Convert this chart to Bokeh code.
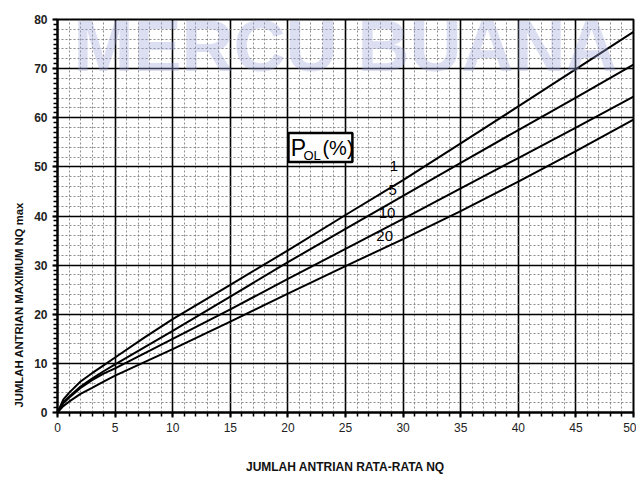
from bokeh.plotting import figure
from bokeh.models import Label, FixedTicker, Range1d, BoxAnnotation, ColumnDataSource, Title
from bokeh.embed import file_html
from bokeh.resources import INLINE

# ---- data ----
nq = [0, 0.5, 1, 2, 3, 4, 5, 7.5, 10, 15, 20, 25, 30, 35, 40, 45, 50]
pol_1 = [0, 2.6, 4.0, 6.3, 8.0, 9.6, 11.2, 15.2, 19.0, 26.0, 33.0, 40.2, 47.3, 54.8, 62.3, 69.9, 77.5]
pol_5 = [0, 2.0, 3.2, 5.3, 6.9, 8.4, 9.8, 13.2, 16.6, 23.6, 30.6, 37.4, 44.1, 50.8, 57.5, 64.1, 70.8]
pol_10 = [0, 1.9, 3.0, 5.0, 6.6, 7.9, 9.0, 12.0, 15.0, 21.0, 27.2, 33.3, 39.4, 45.6, 51.8, 58.0, 64.3]
pol_20 = [0, 1.3, 2.2, 3.8, 5.0, 6.3, 7.5, 10.2, 12.9, 18.5, 24.2, 29.8, 35.3, 41.0, 47.0, 53.2, 59.6]
series = [("1", pol_1), ("5", pol_5), ("10", pol_10), ("20", pol_20)]

x_ticks = [0, 5, 10, 15, 20, 25, 30, 35, 40, 45, 50]
y_ticks = [0, 10, 20, 30, 40, 50, 60, 70, 80]

x_title = "JUMLAH ANTRIAN RATA-RATA NQ"
y_title = "JUMLAH ANTRIAN MAXIMUM NQ max"
watermark = "MERCU BUANA"

FONT = "Liberation Sans"

p = figure(width=636, height=480, x_range=Range1d(0, 50), y_range=Range1d(0, 80),
           output_backend="svg", toolbar_location=None,
           min_border_left=57, min_border_right=3, min_border_top=19, min_border_bottom=68)
p.background_fill_color = "white"
p.border_fill_color = "white"
p.outline_line_color = "black"
p.outline_line_width = 2

# axes / ticks
p.xaxis.ticker = FixedTicker(ticks=x_ticks, minor_ticks=list(range(0, 51)))
p.yaxis.ticker = FixedTicker(ticks=y_ticks, minor_ticks=list(range(0, 81)))
for ax in (p.xaxis, p.yaxis):
    ax.axis_line_width = 2
    ax.axis_line_color = "black"
    ax.major_tick_line_width = 2
    ax.major_tick_line_color = "black"
    ax.minor_tick_line_width = 1.5
    ax.minor_tick_line_color = "black"
    ax.major_tick_out = 5
    ax.major_tick_in = 0
    ax.minor_tick_out = 4
    ax.minor_tick_in = 0
    ax.major_label_text_font = FONT
    ax.major_label_text_font_size = "12px"
    ax.major_label_text_color = "#222222"
p.yaxis.major_label_text_font_style = "bold"
p.xaxis.major_label_standoff = 5
p.yaxis.major_label_standoff = 5

# x axis title
p.xaxis.axis_label = x_title
p.xaxis.axis_label_text_font = FONT
p.xaxis.axis_label_text_font_size = "12px"
p.xaxis.axis_label_text_font_style = "bold"
p.xaxis.axis_label_text_color = "#111111"
p.xaxis.axis_label_standoff = 25

# y axis title (vertical, placed toward the bottom like the original)
p.add_layout(Title(text=y_title, align="left", offset=5, standoff=13,
                   text_font=FONT, text_font_size="11.3px", text_font_style="bold",
                   text_color="#111111"), "left")

# grids
p.xgrid.ticker = FixedTicker(ticks=x_ticks, minor_ticks=list(range(0, 51)))
p.ygrid.ticker = FixedTicker(ticks=y_ticks, minor_ticks=list(range(0, 81, 2)))
for g in (p.xgrid, p.ygrid):
    g.grid_line_color = "black"
    g.grid_line_width = 1.6
    g.grid_line_alpha = 1.0
    g.minor_grid_line_color = "#707070"
    g.minor_grid_line_width = 1
    g.minor_grid_line_dash = "2 2"
    g.minor_grid_line_alpha = 0.8

# watermark (faint, kept fully inside the plot area)
p.add_layout(Label(x=25, y=74.6, text=watermark, text_font=FONT, text_font_size="72px",
                   text_font_style="bold", text_color="#9aa1d8", text_alpha=0.35,
                   text_align="center", text_baseline="middle"))

# curves
for name, vals in series:
    src = ColumnDataSource(dict(x=nq, y=vals))
    p.line("x", "y", source=src, line_color="black", line_width=2)

# curve labels
label_pos = {"1": (29.2, 50.2), "5": (29.1, 45.3), "10": (28.6, 40.6), "20": (28.4, 35.9)}
for name, _ in series:
    lx, ly = label_pos[name]
    p.add_layout(Label(x=lx, y=ly, text=name, text_font=FONT, text_font_size="15px",
                       text_color="black", text_align="center", text_baseline="middle"))

# P_OL (%) box
p.add_layout(BoxAnnotation(left=20.05, right=25.6, bottom=51.0, top=56.9,
                           fill_color="white", fill_alpha=1.0,
                           line_color="black", line_alpha=1.0, line_width=2.5))
p.add_layout(Label(x=20.25, y=53.8, text="P", text_font=FONT, text_font_size="23px",
                   text_color="black", text_baseline="middle"))
p.add_layout(Label(x=21.35, y=52.4, text="OL", text_font=FONT, text_font_size="13px",
                   text_color="black", text_baseline="middle"))
p.add_layout(Label(x=23.0, y=53.9, text="(%)", text_font=FONT, text_font_size="20px",
                   text_color="black", text_baseline="middle"))

open("out.html", "w").write(file_html(p, INLINE))
